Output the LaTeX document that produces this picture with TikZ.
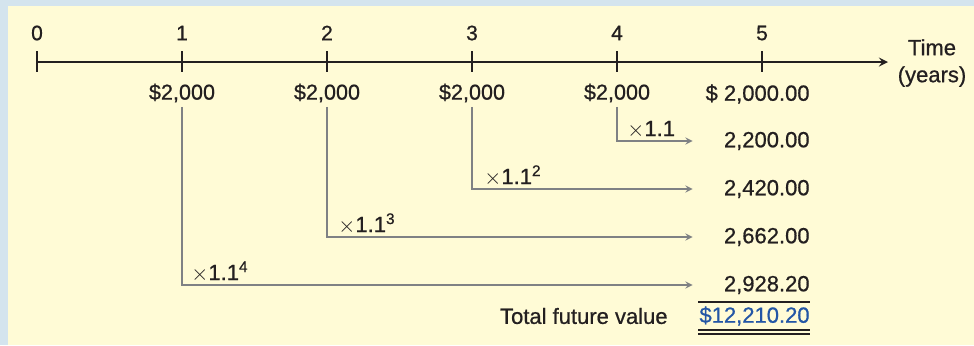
\documentclass[tikz,border=0pt]{standalone}
\usepackage{fontspec}
\setmainfont{Liberation Sans}[RawFeature={embolden=0.7}]
\usepackage{tikz}
\usetikzlibrary{arrows, positioning, calc}
\definecolor{inkdark}{RGB}{35, 31, 32}
\definecolor{flowgray}{RGB}{127, 129, 132}
\definecolor{totalblue}{RGB}{35, 86, 166}
\definecolor{panelyellow}{RGB}{255, 251, 214}
\definecolor{edgeblue}{RGB}{212, 228, 238}

\begin{document}
\begin{tikzpicture}[
        x=0.5pt, y=-0.5pt,
        every node/.style={text=inkdark, font=\fontsize{10.5}{12}\selectfont, inner sep=2pt},
        yearlbl/.style={anchor=center},
        amt/.style={anchor=center, font=\fontsize{10.8}{12}\selectfont},
        val/.style={anchor=east, font=\fontsize{11}{13}\selectfont},
        mult/.style={anchor=base west, font=\fontsize{11}{13}\selectfont},
        axis/.style={draw=inkdark, line width=1pt},
        flow/.style={->, >=stealth, draw=flowgray, line width=0.6pt, shorten >=13.5pt},
        rule/.style={draw=inkdark, line width=0.8pt},
    ]
        % panel
        \fill[edgeblue] (0,0) rectangle (974,345);
        \fill[panelyellow] (8,6) rectangle (974,345);

        % time line
        \foreach \i/\x in {0/37, 1/182, 2/327, 3/472, 4/617, 5/762} {
            \node[yearlbl] (y\i) at (\x,33) {\i};
            \draw[axis] (\x,51) -- (\x,72);
        }
        \coordinate (t0) at (37,62);
        \coordinate (tend) at (888,62);
        \draw[axis, ->, >=stealth] (t0) -- (tend);
        \node[align=center, font=\fontsize{11}{13.5}\selectfont] (time) at (932,63) {Time\\(years)};

        % payments
        \foreach \i/\x in {1/182, 2/327, 3/472, 4/617}
            \node[amt] (a\i) at (\x,93) {\$2,000};
        \node[val] (a5) at (814,94) {\$ 2,000.00};

        % compounded values
        \node[val] (v1) at (814,141) {2,200.00};
        \node[val] (v2) at (814,189) {2,420.00};
        \node[val] (v3) at (814,237) {2,662.00};
        \node[val] (v4) at (814,285) {2,928.20};
        \node[val, text=totalblue] (tot) at (814,316) {\$12,210.20};
        \node[anchor=east, font=\fontsize{11}{13}\selectfont] (totlbl) at (672,316) {Total future value};

        \draw[flow] (a4.south) |- (v1.west);
        \draw[flow] (a3.south) |- (v2.west);
        \draw[flow] (a2.south) |- (v3.west);
        \draw[flow] (a1.south) |- (v4.west);

        \node[mult] (m1) at ($(a4.south |- v1.west)+(6,-5)$) {$\times$1.1};
        \node[mult] (m2) at ($(a3.south |- v2.west)+(8,-5)$) {$\times$1.1\textsuperscript{2}};
        \node[mult] (m3) at ($(a2.south |- v3.west)+(7,-5)$) {$\times$1.1\textsuperscript{3}};
        \node[mult] (m4) at ($(a1.south |- v4.west)+(5,-5)$) {$\times$1.1\textsuperscript{4}};

        % sum rules
        \draw[rule] (698,302) -- (810,302);
        \draw[rule] (698,330) -- (810,330);
        \draw[rule] (698,334) -- (810,334);
    \end{tikzpicture}
\end{document}
